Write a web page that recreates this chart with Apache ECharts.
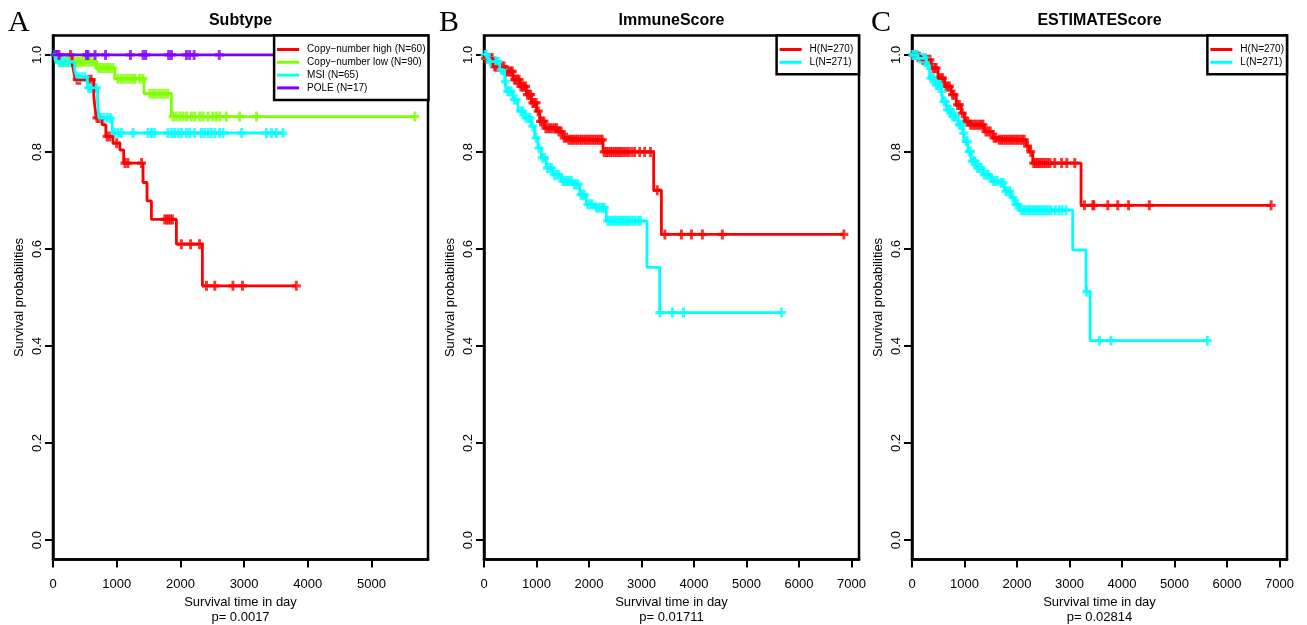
<!DOCTYPE html>
<html>
<head>
<meta charset="utf-8">
<script src="https://cdn.jsdelivr.net/npm/echarts@6/dist/echarts.min.js"></script>
<style>html,body{margin:0;padding:0;background:#fff}#c{width:1307px;height:625px}</style>
</head>
<body>
<div id="c"></div>
<script>
// ---------- tick labels ----------
const xTicksA = [0, 1000, 2000, 3000, 4000, 5000];
const xTicksBC = [0, 1000, 2000, 3000, 4000, 5000, 6000, 7000];
const yTicks = [0, 0.2, 0.4, 0.6, 0.8, 1.0];

// ---------- panel titles / labels ----------
const panelLetters = ['A', 'B', 'C'];
const panelTitles = ['Subtype', 'ImmuneScore', 'ESTIMATEScore'];
const pValues = ['p= 0.0017', 'p= 0.01711', 'p= 0.02814'];
const xAxisTitle = 'Survival time in day';
const yAxisTitle = 'Survival probabilities';

// ---------- Panel A : Subtype ----------
const subtypeNames = ['Copy\u2212number high (N=60)', 'Copy\u2212number low (N=90)', 'MSI (N=65)', 'POLE (N=17)'];

const cnHighStepT = [0, 300, 325, 350, 640, 660, 680, 770, 830, 940, 1050, 1110, 1413, 1476, 1545, 1937, 2345];
const cnHighStepS = [1, 0.983, 0.966, 0.949, 0.916, 0.890, 0.870, 0.856, 0.832, 0.818, 0.804, 0.777, 0.737, 0.699, 0.661, 0.610, 0.524];
const cnHighCensor = [275, 380, 420, 560, 600, 690, 720, 850, 890, 1000, 1130, 1175, 1390, 1755, 1785, 1815, 1845, 1875, 2015, 2160, 2300, 2410, 2540, 2825, 2975, 3820];

const cnLowStepT = [0, 40, 681, 969, 1429, 1859];
const cnLowStepS = [1, 0.986, 0.973, 0.951, 0.920, 0.873];
const cnLowCensor = [100, 140, 190, 230, 260, 300, 330, 360, 390, 420, 450, 480, 520, 560, 600, 640, 720, 750, 790, 830, 860, 900, 940, 1015, 1065, 1110, 1160, 1205, 1250, 1285, 1360, 1410, 1520, 1565, 1610, 1660, 1705, 1755, 1800, 1885, 1935, 1990, 2040, 2095, 2175, 2225, 2305, 2355, 2435, 2510, 2565, 2620, 2720, 2930, 3195, 5680];

const msiStepT = [0, 50, 340, 370, 540, 700, 720, 930];
const msiStepS = [1, 0.985, 0.969, 0.954, 0.932, 0.901, 0.870, 0.839];
const msiCensor = [30, 100, 150, 200, 250, 300, 400, 450, 500, 560, 600, 640, 680, 760, 800, 850, 900, 970, 1020, 1075, 1255, 1490, 1545, 1595, 1805, 1860, 1910, 1965, 2015, 2095, 2145, 2225, 2330, 2380, 2435, 2485, 2540, 2615, 2670, 2960, 3350, 3430, 3505, 3610];

const poleStepT = [0];
const poleStepS = [1];
const poleCensor = [40, 65, 95, 525, 550, 660, 825, 1215, 1415, 1455, 1815, 1860, 2095, 2145, 2215, 2610, 3950];

// ---------- Panel B : ImmuneScore ----------
const groupNames = ['H(N=270)', 'L(N=271)'];

const immHStepT = [0, 13, 171, 394, 552, 680, 808, 903, 998, 1061, 1156, 1410, 1505, 1600, 2267, 3232, 3379];
const immHStepS = [1, 0.993, 0.976, 0.966, 0.949, 0.935, 0.918, 0.901, 0.884, 0.863, 0.849, 0.842, 0.829, 0.825, 0.800, 0.721, 0.630];
const immHCensor = [30, 62, 98, 133, 158, 204, 228, 263, 291, 318, 352, 381, 418, 447, 483, 512, 538, 583, 611, 642, 668, 703, 731, 758, 792, 828, 862, 889, 931, 958, 993, 1032, 1078, 1113, 1142, 1178, 1222, 1258, 1302, 1348, 1383, 1428, 1472, 1528, 1572, 1618, 1663, 1698, 1742, 1778, 1822, 1858, 1903, 1938, 1982, 2018, 2062, 2098, 2143, 2178, 2222, 2253, 2288, 2332, 2368, 2412, 2448, 2493, 2528, 2572, 2608, 2652, 2698, 2752, 2812, 2870, 2965, 3060, 3170, 3300, 3445, 3760, 3950, 4160, 4540, 6855];

const immLStepT = [0, 51, 109, 299, 394, 427, 552, 648, 775, 903, 966, 1029, 1093, 1189, 1314, 1474, 1695, 1823, 1950, 2109, 2331, 3105, 3347];
const immLStepS = [1, 0.993, 0.986, 0.969, 0.945, 0.925, 0.908, 0.884, 0.870, 0.853, 0.829, 0.808, 0.788, 0.767, 0.753, 0.740, 0.733, 0.712, 0.692, 0.685, 0.658, 0.562, 0.469];
const immLCensor = [20, 45, 80, 122, 148, 183, 212, 238, 271, 328, 362, 408, 452, 481, 512, 578, 612, 702, 733, 798, 842, 871, 928, 992, 1048, 1112, 1152, 1208, 1252, 1283, 1338, 1382, 1422, 1502, 1538, 1582, 1618, 1662, 1722, 1758, 1792, 1848, 1882, 1912, 1978, 2022, 2058, 2142, 2178, 2222, 2258, 2292, 2358, 2402, 2438, 2482, 2518, 2562, 2602, 2638, 2682, 2722, 2758, 2812, 2868, 2932, 2980, 3350, 3590, 3800, 5665];

// ---------- Panel C : ESTIMATEScore ----------
const estHStepT = [0, 90, 179, 369, 494, 622, 749, 844, 939, 1002, 1097, 1382, 1540, 1635, 2175, 2237, 2300, 3220];
const estHStepS = [1, 0.996, 0.990, 0.973, 0.952, 0.935, 0.918, 0.897, 0.880, 0.863, 0.856, 0.842, 0.829, 0.825, 0.812, 0.800, 0.777, 0.690];
const estHCensor = [20, 52, 76, 112, 141, 202, 231, 262, 298, 342, 401, 432, 461, 518, 552, 581, 648, 682, 711, 772, 801, 868, 902, 958, 1031, 1062, 1118, 1162, 1201, 1238, 1282, 1318, 1352, 1408, 1452, 1491, 1562, 1598, 1662, 1701, 1738, 1782, 1818, 1862, 1901, 1938, 1982, 2018, 2062, 2101, 2138, 2202, 2262, 2318, 2352, 2388, 2422, 2458, 2502, 2538, 2582, 2628, 2720, 2850, 2950, 3100, 3285, 3445, 3465, 3730, 3920, 4125, 4520, 6840];

const estLStepT = [0, 114, 274, 337, 432, 559, 589, 654, 749, 875, 970, 1002, 1065, 1129, 1224, 1350, 1510, 1667, 1762, 1890, 1952, 2047, 3061, 3316, 3392];
const estLStepS = [1, 0.993, 0.979, 0.952, 0.938, 0.925, 0.904, 0.887, 0.873, 0.856, 0.839, 0.822, 0.801, 0.781, 0.767, 0.753, 0.740, 0.736, 0.719, 0.706, 0.692, 0.680, 0.598, 0.512, 0.411];
const estLCensor = [15, 41, 72, 101, 138, 171, 202, 228, 262, 298, 322, 358, 392, 418, 462, 488, 522, 541, 572, 608, 632, 678, 712, 731, 778, 812, 838, 902, 928, 951, 985, 1032, 1051, 1088, 1112, 1148, 1182, 1201, 1248, 1282, 1312, 1378, 1422, 1458, 1542, 1578, 1622, 1698, 1732, 1788, 1822, 1858, 1922, 1978, 2012, 2078, 2122, 2158, 2202, 2238, 2282, 2318, 2362, 2398, 2442, 2478, 2522, 2558, 2602, 2648, 2730, 2800, 2860, 2935, 3330, 3570, 3790, 5625];

// ---------- colours (R rainbow) ----------
const colorsA = ['#FF0000', '#80FF00', '#00FFFF', '#8000FF'];
const colorsBC = ['#FF0000', '#00FFFF'];

// ---------- helpers ----------
function stepAt(T, S, t) {
  let v = S[0];
  for (let i = 0; i < T.length; i++) if (T[i] <= t) v = S[i];
  return v;
}
const plusPath = 'path://M-1.3,-4 L1.3,-4 L1.3,-1.3 L4,-1.3 L4,1.3 L1.3,1.3 L1.3,4 L-1.3,4 L-1.3,1.3 L-4,1.3 L-4,-1.3 L-1.3,-1.3 Z';

function curveSeries(idx, name, T, S, C, color) {
  const line = T.map((t, i) => [t, S[i]]);
  const tEnd = Math.max(...C);
  if (tEnd > T[T.length - 1]) line.push([tEnd, S[S.length - 1]]);
  return [
    { type: 'line', name: name, xAxisIndex: idx, yAxisIndex: idx, step: 'end', symbol: 'none', showSymbol: false,
      data: line, color: color, lineStyle: { width: 2.8, color: color }, animation: false, silent: true },
    { type: 'scatter', name: name + '_c', xAxisIndex: idx, yAxisIndex: idx, symbol: plusPath, symbolSize: [9, 10],
      data: C.map(t => [t, stepAt(T, S, t)]), itemStyle: { color: color }, animation: false, silent: true }
  ];
}

const FONT = 'Liberation Sans, Arial, Helvetica, sans-serif';
const gridDefs = [
  { left: 53, width: 375, xmax: 5887, xticks: xTicksA },
  { left: 484, width: 375, xmax: 7143, xticks: xTicksBC },
  { left: 912, width: 375, xmax: 7143, xticks: xTicksBC }
];
const TOP = 35.5, HEIGHT = 524;

const grids = gridDefs.map(g => ({ left: g.left, top: TOP, width: g.width, height: HEIGHT, show: true,
  containLabel: false, outerBoundsMode: 'none',
  borderColor: '#000', borderWidth: 2.5, backgroundColor: 'transparent' }));

const xAxes = gridDefs.map((g, i) => ({
  type: 'value', gridIndex: i, min: 0, max: g.xmax, position: 'bottom',
  axisLine: { show: true, onZero: false, lineStyle: { color: '#000', width: 2.5 } }, splitLine: { show: false },
  axisTick: { show: true, inside: false, customValues: g.xticks, length: 8, lineStyle: { color: '#000', width: 2 } },
  axisLabel: { customValues: g.xticks, color: '#000', fontSize: 13, fontFamily: FONT, margin: 18,
    formatter: v => String(v) },
  name: xAxisTitle + '\n' + pValues[i], nameLocation: 'middle', nameGap: 32,
  nameTextStyle: { color: '#000', fontSize: 13, fontFamily: FONT, lineHeight: 15 }
}));

const yAxes = gridDefs.map((g, i) => ({
  type: 'value', gridIndex: i, min: -0.04, max: 1.04, position: 'left',
  axisLine: { show: true, onZero: false, lineStyle: { color: '#000', width: 2.5 } }, splitLine: { show: false },
  axisTick: { show: true, inside: false, customValues: yTicks, length: 8, lineStyle: { color: '#000', width: 2 } },
  axisLabel: { customValues: yTicks, color: '#000', fontSize: 13, fontFamily: FONT, margin: 9, rotate: 90,
    formatter: v => v.toFixed(1) },
  name: yAxisTitle, nameLocation: 'middle', nameGap: 27,
  nameTextStyle: { color: '#000', fontSize: 13, fontFamily: FONT }
}));

let series = [];
series = series.concat(curveSeries(0, subtypeNames[0], cnHighStepT, cnHighStepS, cnHighCensor, colorsA[0]));
series = series.concat(curveSeries(0, subtypeNames[1], cnLowStepT, cnLowStepS, cnLowCensor, colorsA[1]));
series = series.concat(curveSeries(0, subtypeNames[2], msiStepT, msiStepS, msiCensor, colorsA[2]));
series = series.concat(curveSeries(0, subtypeNames[3], poleStepT, poleStepS, poleCensor, colorsA[3]));
series = series.concat(curveSeries(1, groupNames[0] + ' ', immHStepT, immHStepS, immHCensor, colorsBC[0]));
series = series.concat(curveSeries(1, groupNames[1] + ' ', immLStepT, immLStepS, immLCensor, colorsBC[1]));
series = series.concat(curveSeries(2, groupNames[0], estHStepT, estHStepS, estHCensor, colorsBC[0]));
series = series.concat(curveSeries(2, groupNames[1], estLStepT, estLStepS, estLCensor, colorsBC[1]));

function legendFor(names, right) {
  return {
    orient: 'vertical', right: right, top: TOP, data: names,
    backgroundColor: '#fff', borderColor: '#000', borderWidth: 2.5,
    padding: [9, 3, 7, 3], itemGap: 2.8, itemWidth: 22, itemHeight: 10,
    icon: 'path://M0,0 L22,0 L22,3 L0,3 Z',
    selectedMode: false, align: 'left',
    textStyle: { color: '#000', fontSize: 10, fontFamily: FONT, padding: [0, 0, 0, 3] }
  };
}

const graphics = [];
gridDefs.forEach((g, i) => {
  graphics.push({ type: 'text', x: g.left + g.width / 2, y: 21, silent: true,
    style: { text: panelTitles[i], font: 'bold 16px ' + FONT, fill: '#000', textAlign: 'center', textVerticalAlign: 'middle' } });
});
[8, 439, 871].forEach((x, i) => {
  graphics.push({ type: 'text', x: x, y: 23.5, silent: true,
    style: { text: panelLetters[i], font: '30px "Liberation Serif", "Times New Roman", serif', fill: '#000', textAlign: 'left', textVerticalAlign: 'middle' } });
});

const chart = echarts.init(document.getElementById('c'), null, { renderer: 'canvas' });
chart.setOption({
  animation: false,
  backgroundColor: '#fff',
  grid: grids,
  xAxis: xAxes,
  yAxis: yAxes,
  legend: [
    legendFor(subtypeNames, 1307 - 428.5),
    legendFor(groupNames.map(n => n + ' '), 1307 - 859),
    legendFor(groupNames, 1307 - 1287)
  ],
  graphic: graphics,
  series: series
});
</script>
</body>
</html>
